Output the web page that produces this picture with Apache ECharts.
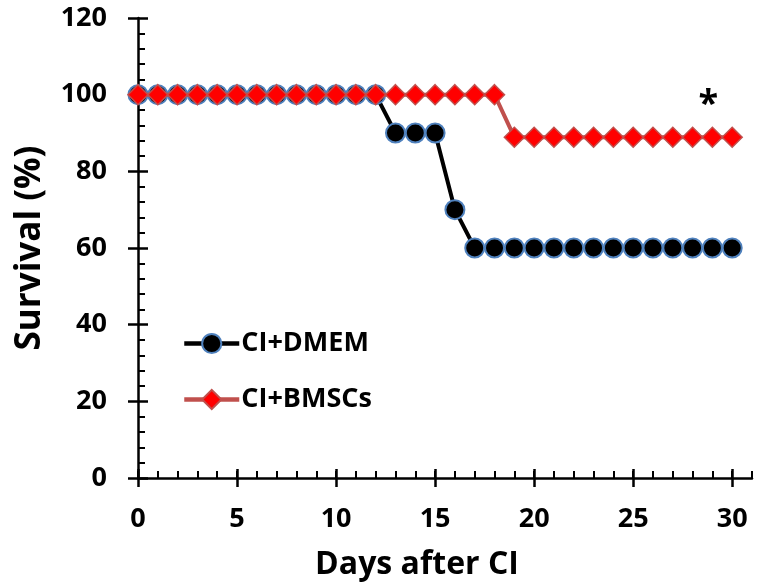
<!DOCTYPE html>
<html><head><meta charset="utf-8">
<script src="https://cdn.jsdelivr.net/npm/echarts@6/dist/echarts.min.js"></script>
<style>html,body{margin:0;padding:0;background:#fff}#c{width:767px;height:586px}</style>
</head><body><div id="c"></div>
<script>
const days = [0,1,2,3,4,5,6,7,8,9,10,11,12,13,14,15,16,17,18,19,20,21,22,23,24,25,26,27,28,29,30];
const dmem = [100,100,100,100,100,100,100,100,100,100,100,100,100,90,90,90,70,60,60,60,60,60,60,60,60,60,60,60,60,60,60];
const bmsc = [100,100,100,100,100,100,100,100,100,100,100,100,100,100,100,100,100,100,100,88.9,88.9,88.9,88.9,88.9,88.9,88.9,88.9,88.9,88.9,88.9,88.9];
const xLabels = [0,5,10,15,20,25,30];
const yLabels = [0,20,40,60,80,100,120];
const seriesNames = ['CI+DMEM','CI+BMSCs'];
const star = {x: 28.8, y: 97.5, text: '*'};

const FONT = 'Open Sans';
const chart = echarts.init(document.getElementById('c'), null, {renderer:'canvas'});
const axisLineStyle = {color:'#000', width:2.5};
const xBase = {type:'value', min:0, max:31, position:'bottom', offset:0, gridIndex:0, splitLine:{show:false}};
const yBase = {type:'value', min:0, max:120, interval:20, position:'left', offset:0, gridIndex:0, splitLine:{show:false}};
chart.setOption({
  animation:false,
  grid:{left:138, right:15, top:18, bottom:107, containLabel:false},
  legend:{
    orient:'vertical', left:177, top:325, itemWidth:55, itemHeight:24, itemGap:29,
    lineStyle:{width:4.5},
    textStyle:{fontFamily:FONT, fontWeight:'bold', fontSize:27, lineHeight:24, color:'#000', padding:[0,0,0,-3]},
    data:seriesNames
  },
  xAxis:[
    Object.assign({}, xBase, {
      name:'Days after CI', nameLocation:'middle', nameGap:71,
      nameTextStyle:{fontFamily:FONT, fontWeight:'bold', fontSize:32, color:'#000', padding:[0,56,0,0]},
      axisLine:{show:true, onZero:false, lineStyle:axisLineStyle},
      axisTick:{show:true, inside:false, length:9, customValues:xLabels, lineStyle:{color:'#000', width:2.5}},
      axisLabel:{show:true, customValues:xLabels, margin:28, fontFamily:FONT, fontWeight:'bold', fontSize:27, color:'#000'}
    }),
    Object.assign({}, xBase, {
      axisLine:{show:false, onZero:false},
      axisTick:{show:true, inside:true, length:9, customValues:xLabels, lineStyle:{color:'#000', width:2.5}},
      axisLabel:{show:false}
    }),
    Object.assign({}, xBase, {
      interval:1,
      axisLine:{show:false, onZero:false},
      axisTick:{show:true, inside:true, length:7, lineStyle:{color:'#000', width:2}},
      axisLabel:{show:false}
    })
  ],
  yAxis:[
    Object.assign({}, yBase, {
      name:'Survival (%)', nameLocation:'middle', nameGap:90,
      nameTextStyle:{fontFamily:FONT, fontWeight:'bold', fontSize:35, color:'#000'},
      axisLine:{show:true, onZero:false, lineStyle:axisLineStyle},
      axisTick:{show:true, inside:false, length:10, lineStyle:{color:'#000', width:2.5}},
      axisLabel:{show:true, margin:31, fontFamily:FONT, fontWeight:'bold', fontSize:27, color:'#000', customValues:yLabels}
    }),
    Object.assign({}, yBase, {
      axisLine:{show:false, onZero:false},
      axisTick:{show:true, inside:true, length:10, lineStyle:{color:'#000', width:2.5}},
      minorTick:{show:true, splitNumber:5, length:7, lineStyle:{color:'#000', width:2}},
      axisLabel:{show:false}
    })
  ],
  series:[
    {
      name:seriesNames[0], type:'line', xAxisIndex:0, yAxisIndex:0, z:2,
      data:days.map((d,i)=>[d, dmem[i]]),
      symbol:'circle', symbolSize:19,
      lineStyle:{color:'#000', width:4},
      itemStyle:{color:'#000', borderColor:'#4f81bd', borderWidth:2},
      emphasis:{disabled:true}
    },
    {
      name:seriesNames[1], type:'line', xAxisIndex:0, yAxisIndex:0, z:3,
      data:days.map((d,i)=>[d, bmsc[i]]),
      symbol:'diamond', symbolSize:[20,20],
      lineStyle:{color:'#c0504d', width:4},
      itemStyle:{color:'#ff0000', borderColor:'#c0504d', borderWidth:1.5},
      emphasis:{disabled:true},
      markPoint:{
        symbol:'circle', symbolSize:1, itemStyle:{color:'rgba(0,0,0,0)'},
        label:{show:true, position:'inside', formatter:star.text, fontFamily:FONT, fontWeight:'bold', fontSize:36, color:'#000'},
        data:[{coord:[star.x, star.y]}]
      }
    }
  ]
});
</script></body></html>
